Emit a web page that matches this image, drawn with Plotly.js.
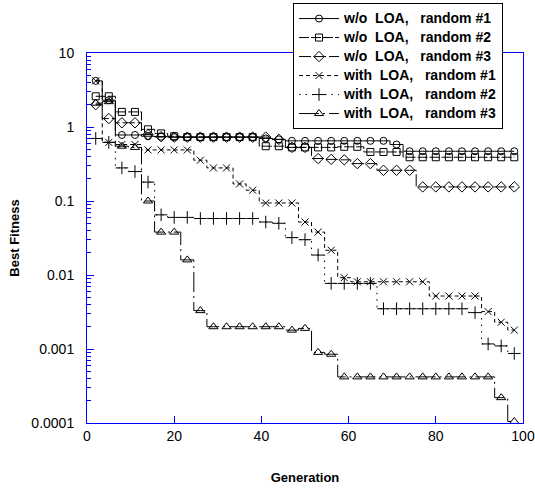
<!DOCTYPE html>
<html>
<head>
<meta charset="utf-8">
<script src="https://cdn.plot.ly/plotly-3.0.1.min.js"></script>
<style>html,body{margin:0;padding:0;background:#fff;}#chart{width:535px;height:488px;}</style>
</head>
<body>
<div id="chart"></div>
<script>
// Generation at which each marker is drawn
const generations = [2,5,8,11,14,17,20,23,26,29,32,35,38,41,44,47,50,53,56,59,62,65,68,71,74,77,80,83,86,89,92,95,98];

// Best fitness, without LOA
const woLOA1 = [4.2,2.3,0.78,0.78,0.75,0.74,0.73,0.73,0.73,0.73,0.73,0.73,0.73,0.70,0.68,0.65,0.65,0.65,0.65,0.65,0.65,0.65,0.65,0.58,0.47,0.47,0.47,0.47,0.47,0.47,0.47,0.47,0.47];
const woLOA2 = [2.6,2.6,1.6,1.6,0.93,0.82,0.75,0.73,0.73,0.73,0.73,0.73,0.73,0.55,0.55,0.53,0.53,0.53,0.53,0.54,0.54,0.46,0.46,0.46,0.39,0.39,0.39,0.39,0.39,0.39,0.39,0.39,0.39];
const woLOA3 = [2.0,1.3,1.14,1.14,0.79,0.74,0.73,0.73,0.73,0.73,0.73,0.73,0.73,0.73,0.68,0.53,0.53,0.375,0.365,0.36,0.32,0.32,0.26,0.26,0.26,0.155,0.155,0.155,0.155,0.155,0.155,0.155,0.155];

// Best fitness, with LOA
const wLOA1 = [4.2,0.62,0.58,0.58,0.49,0.49,0.49,0.49,0.356,0.28,0.28,0.17,0.14,0.094,0.094,0.094,0.052,0.038,0.0216,0.0092,0.0081,0.0081,0.0081,0.0081,0.0081,0.0081,0.0052,0.0052,0.0052,0.0052,0.0032,0.0023,0.0018];
const wLOA2 = [0.70,0.62,0.28,0.25,0.18,0.065,0.06,0.06,0.058,0.058,0.058,0.058,0.058,0.052,0.05,0.032,0.03,0.0186,0.0077,0.0077,0.0077,0.0077,0.0035,0.0035,0.0035,0.0035,0.0035,0.0035,0.0035,0.0031,0.00117,0.0011,0.00087];
const wLOA3 = [2.1,2.2,0.55,0.53,0.1,0.038,0.038,0.016,0.0033,0.002,0.002,0.002,0.002,0.002,0.002,0.0018,0.0019,0.0009,0.00085,0.00042,0.00042,0.00042,0.00042,0.00042,0.00042,0.00042,0.00042,0.00042,0.00042,0.00042,0.00042,0.00022,0.000105];

const seriesNames = [
  'w/o\u00A0\u00A0LOA,\u00A0\u00A0\u00A0random #1',
  'w/o\u00A0\u00A0LOA,\u00A0\u00A0\u00A0random #2',
  'w/o\u00A0\u00A0LOA,\u00A0\u00A0\u00A0random #3',
  'with\u00A0\u00A0LOA,\u00A0\u00A0\u00A0random #1',
  'with\u00A0\u00A0LOA,\u00A0\u00A0\u00A0random #2',
  'with\u00A0\u00A0LOA,\u00A0\u00A0\u00A0random #3'
];
const yTickVals = [10,1,0.1,0.01,0.001,0.0001];
const yTickText = ['10','1','0.1','0.01','0.001','0.0001'];
const xTickVals = [0,20,40,60,80,100];

const seriesData = [woLOA1, woLOA2, woLOA3, wLOA1, wLOA2, wLOA3];
const symbols = ['circle-open','square-open','diamond-open','x-thin-open','cross-thin-open','triangle-up-open'];
const sizes = [7,7,8,7,9,8];
const dashes = ['solid','10px,2px','12px,3px','4px,3px','1.5px,5px','20px,4px,2px,4px'];

const traces = seriesData.map((ys, i) => ({
  type: 'scatter',
  mode: 'lines+markers',
  name: '<span style="font-size:14px">' + seriesNames[i] + '</span>',
  x: generations,
  y: ys,
  cliponaxis: false,
  line: {color: '#000', width: 1, dash: dashes[i], shape: 'hvh'},
  marker: {symbol: symbols[i], size: sizes[i], color: '#000', line: {color: '#000', width: 1}}
}));

const minorVals = [];
for (let e = -4; e < 1; e++) for (let k = 2; k <= 9; k++) minorVals.push(k * Math.pow(10, e));

const FONT = 'Liberation Sans, Arial, sans-serif';
const layout = {
  width: 535, height: 488,
  margin: {l: 87, r: 12, t: 53, b: 65, pad: 0, autoexpand: false},
  paper_bgcolor: '#fff', plot_bgcolor: '#fff',
  font: {family: FONT, size: 14, color: '#000'},
  showlegend: true,
  xaxis: {
    range: [0, 100], tickmode: 'array', tickvals: xTickVals,
    ticks: 'inside', ticklen: 7, tickcolor: '#0000ff', tickwidth: 1,
    showline: true, linecolor: '#0000ff', linewidth: 1, mirror: true,
    showgrid: false, zeroline: false, automargin: false,
    tickfont: {family: FONT, size: 14, color: '#000'},
    title: {text: '<b>Generation</b>', font: {family: FONT, size: 13, color: '#000'}, standoff: 30}
  },
  yaxis: {
    type: 'log', range: [-4, 1], tickmode: 'array', tickvals: yTickVals, ticktext: yTickText,
    ticks: 'inside', ticklen: 7, tickcolor: '#0000ff', tickwidth: 1,
    minor: {tickmode: 'array', tickvals: minorVals, ticks: 'inside', ticklen: 4, tickcolor: '#0000ff', tickwidth: 1, showgrid: false},
    showline: true, linecolor: '#0000ff', linewidth: 1, mirror: true,
    showgrid: false, zeroline: false, automargin: false, ticklabelstandoff: 9,
    tickfont: {family: FONT, size: 14, color: '#000'},
    title: {text: '<b>Best Fitness</b>', font: {family: FONT, size: 13, color: '#000'}, standoff: 8}
  },
  legend: {
    x: 0.4725, y: 1.135, xanchor: 'left', yanchor: 'top',
    bgcolor: '#fff', bordercolor: '#000', borderwidth: 1,
    font: {family: FONT, size: 11, color: '#000', weight: 'bold'},
    itemwidth: 40, tracegroupgap: 0
  }
};

Plotly.newPlot('chart', traces, layout, {displayModeBar: false, staticPlot: true});
</script>
</body>
</html>
